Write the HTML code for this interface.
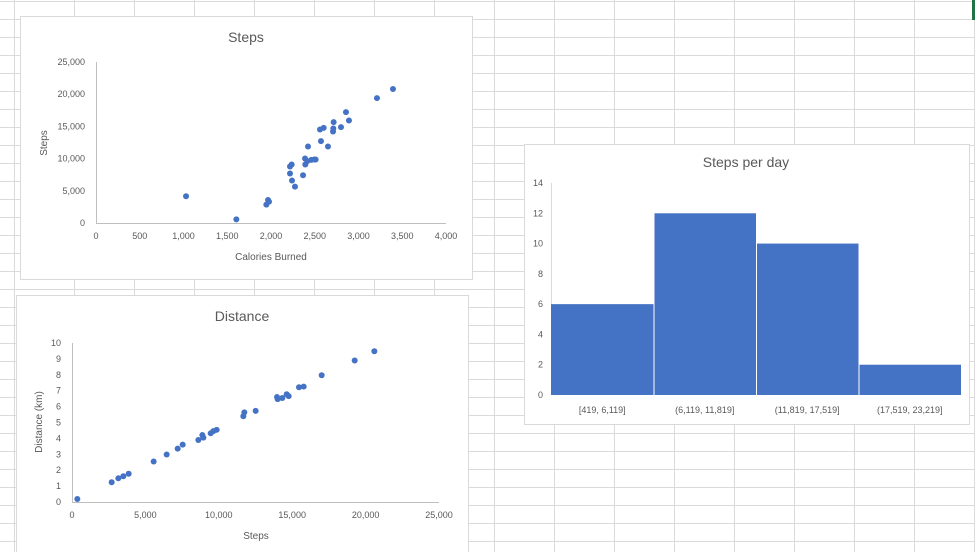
<!DOCTYPE html>
<html><head><meta charset="utf-8"><style>
html,body{margin:0;padding:0;background:#fff;}
svg{display:block;font-family:"Liberation Sans",sans-serif;}
</style></head><body>
<svg id="s" width="975" height="552" viewBox="0 0 975 552">
<g id="grid"></g>
<rect x="972" y="0" width="3" height="20" fill="#217346"/>

<g>
<rect x="20.5" y="16.5" width="452" height="263" fill="#fff" stroke="#d9d9d9"/>
<text x="246" y="42" text-anchor="middle" font-size="14" fill="#595959">Steps</text>
<g id="c1"></g>
<text x="271" y="260" text-anchor="middle" font-size="10" fill="#595959">Calories Burned</text>
<text transform="translate(47,143) rotate(-90)" text-anchor="middle" font-size="10" fill="#595959">Steps</text>
</g>

<g>
<rect x="16.5" y="295.5" width="452" height="262" fill="#fff" stroke="#d9d9d9"/>
<text x="242" y="321" text-anchor="middle" font-size="14" fill="#595959">Distance</text>
<g id="c2"></g>
<text x="256" y="539" text-anchor="middle" font-size="10" fill="#595959">Steps</text>
<text transform="translate(42,422) rotate(-90)" text-anchor="middle" font-size="10" fill="#595959">Distance (km)</text>
</g>

<g>
<rect x="524.5" y="144.5" width="445" height="280" fill="#fff" stroke="#d9d9d9"/>
<text x="746" y="167" text-anchor="middle" font-size="14" fill="#595959">Steps per day</text>
<g id="c3"></g>
</g>
</svg>
<script>
const NS='http://www.w3.org/2000/svg';
function mk(p,tag,a,txt){const e=document.createElementNS(NS,tag);for(const k in a)e.setAttribute(k,a[k]);if(txt!==undefined)e.textContent=txt;p.appendChild(e);return e;}

// chart 1 data
const calories=[1029,1604,1947,1966,1977,2217,2217,2236,2240,2274,2366,2392,2389,2415,2423,2461,2495,2510,2560,2571,2602,2651,2709,2712,2716,2800,2857,2891,3211,3394];
const stepsA=[4150,570,2850,3580,3320,7680,8770,9080,6590,5650,7420,9080,10010,9600,11880,9800,9860,9860,14520,12710,14780,11880,14210,14680,15660,14880,17220,15920,19400,20800];
const xTicks1=[0,500,1000,1500,2000,2500,3000,3500,4000];
const yTicks1=[0,5000,10000,15000,20000,25000];
// chart 2 data
const stepsB=[363,2702,3156,3497,3860,5563,6449,7198,7539,8606,8879,8947,9446,9628,9855,11671,11739,12511,13965,14010,14328,14624,14760,15464,15782,17008,19256,20596];
const distKm=[0.19,1.24,1.49,1.62,1.78,2.55,2.99,3.36,3.61,3.90,4.21,4.05,4.32,4.46,4.54,5.39,5.64,5.73,6.60,6.47,6.54,6.78,6.66,7.22,7.26,7.97,8.90,9.48];
const xTicks2=[0,5000,10000,15000,20000,25000];
const yTicks2=[0,1,2,3,4,5,6,7,8,9,10];
// chart 3 data
const bins=['[419, 6,119]','(6,119, 11,819]','(11,819, 17,519]','(17,519, 23,219]'];
const counts=[6,12,10,2];
const yTicks3=[0,2,4,6,8,10,12,14];

const fmt=v=>v.toLocaleString('en-US');

// grid
const g=document.getElementById('grid');
for(let x=14;x<975;x+=60){const l=mk(g,'line',{x1:x+.5,y1:0,x2:x+.5,y2:552,stroke:'#dadada'});}
for(let y=1;y<552;y+=18){const l=mk(g,'line',{x1:0,y1:y+.5,x2:975,y2:y+.5,stroke:'#dadada'});}

function scatter(id,xs,ys,xt,yt,X0,X1,Y0,Y1,xmax,ymax,labelFmt){
  const p=document.getElementById(id);
  const sx=v=>X0+(v/xmax)*(X1-X0), sy=v=>Y0-(v/ymax)*(Y0-Y1);
  let a=mk(p,'line',{x1:X0+.5,y1:Y1,x2:X0+.5,y2:Y0+.5,stroke:'#bfbfbf'});
  
  a=mk(p,'line',{x1:X0,y1:Y0+.5,x2:X1,y2:Y0+.5,stroke:'#bfbfbf'});
  
  xt.forEach(v=>{const t=mk(p,'text',{x:sx(v),y:Y0+16,'text-anchor':'middle','font-size':9,fill:'#595959'},labelFmt(v));
    });
  yt.forEach(v=>{const t=mk(p,'text',{x:X0-11,y:sy(v)+3,'text-anchor':'end','font-size':9,fill:'#595959'},labelFmt(v));
    });
  xs.forEach((v,i)=>{const c=mk(p,'circle',{cx:sx(v),cy:sy(ys[i]),r:3,fill:'#4472c4'});
    });
}
scatter('c1',calories,stepsA,xTicks1,yTicks1,96,446,223,62,4000,25000,fmt);
scatter('c2',stepsB,distKm,xTicks2,yTicks2,72,439,502,343,25000,10,fmt);

// histogram
(function(){
  const p=document.getElementById('c3');
  const X0=551,X1=961,Y0=395,Y1=183,ymax=14;
  const sy=v=>Y0-(v/ymax)*(Y0-Y1);
  yTicks3.forEach(v=>{const t=mk(p,'text',{x:543,y:sy(v)+3,'text-anchor':'end','font-size':9,fill:'#595959'},String(v));
    });
  const a=mk(p,'line',{x1:X0+.5,y1:Y1,x2:X0+.5,y2:Y0,stroke:'#d9d9d9'});
  
  const bw=(X1-X0)/counts.length;
  counts.forEach((v,i)=>{
    const r=mk(p,'rect',{x:X0+i*bw+(i?1:0),y:sy(v),width:bw-(i?1:0),height:Y0-sy(v),fill:'#4472c4'});
    
    const t=mk(p,'text',{x:X0+i*bw+bw/2,y:413,'text-anchor':'middle','font-size':9,fill:'#595959'},bins[i]);
    
  });
})();
</script>
</body></html>
